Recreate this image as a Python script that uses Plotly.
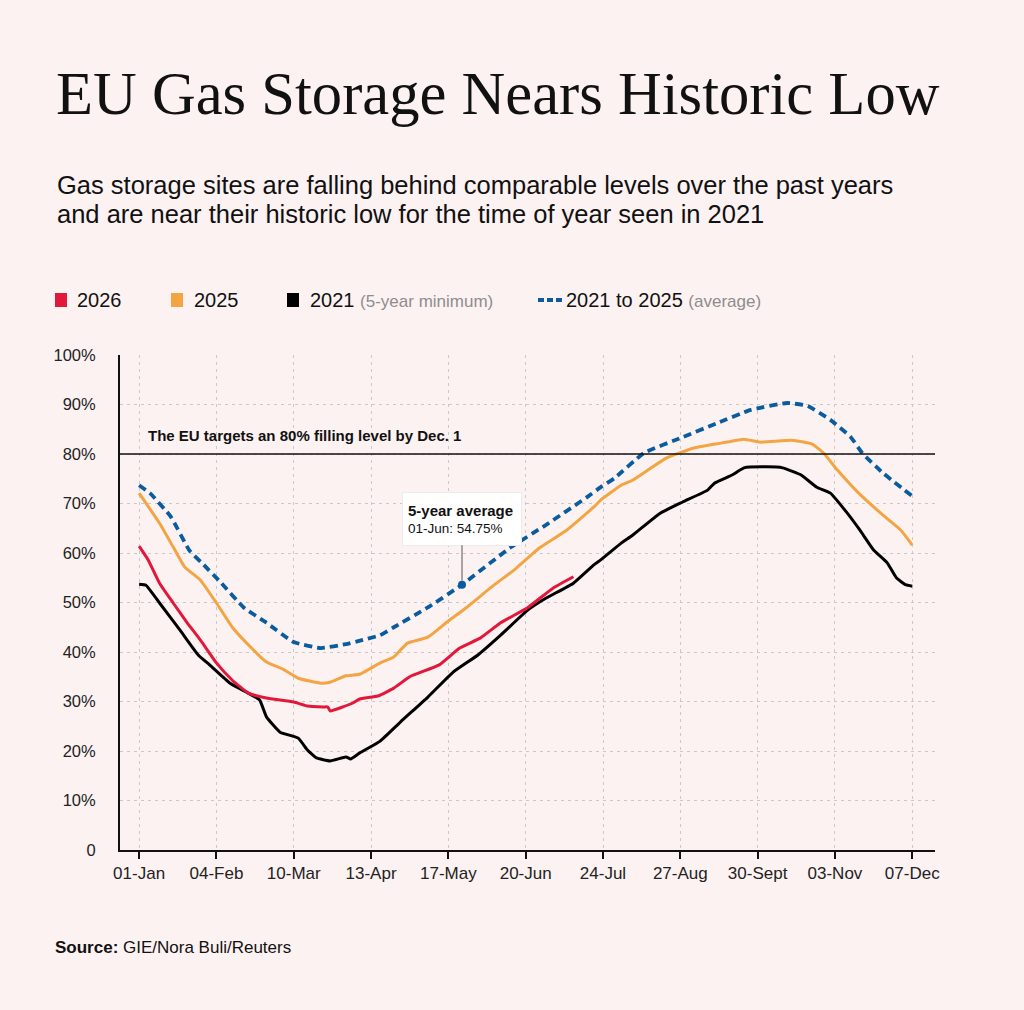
#!/usr/bin/env python3
"""
EU gas storage chart - filling level by day of year
"""

import plotly.graph_objects as go

# 日數 = 從 01-Jan 起算的天數
AVG_DAYS = [0, 5, 14, 22, 28, 36, 46, 56, 68, 80, 91, 98, 106, 112, 127, 142,
            163, 179, 197, 203, 209, 222, 239, 254, 269, 285, 294, 304, 313,
            318, 327, 340]
AVG_VALUES = [73.7, 72.0, 67.3, 60.6, 57.8, 54.0, 49.0, 45.9, 42.0, 40.8, 41.6,
              42.4, 43.4, 45.0, 49.0, 53.6, 61.0, 65.7, 71.3, 73.3, 75.1, 80.2,
              83.4, 86.2, 88.9, 90.3, 89.7, 86.9, 83.4, 80.2, 76.2, 71.5]

Y2025_DAYS = [0, 9, 15, 20, 27, 34, 41, 49, 56, 63, 70, 80, 84, 91, 97, 106,
              112, 118, 127, 135, 144, 156, 165, 176, 188, 200, 203, 212, 217,
              232, 244, 256, 266, 273, 287, 296, 301, 307, 316, 327, 335, 340]
Y2025_VALUES = [72.1, 66.0, 61.2, 57.2, 54.5, 49.9, 45.0, 41.0, 38.0, 36.6,
                34.7, 33.7, 33.9, 35.2, 35.5, 37.8, 39.0, 41.8, 43.0, 45.9,
                49.0, 53.5, 56.6, 61.0, 64.6, 69.3, 70.7, 73.7, 74.7, 79.2,
                81.2, 82.2, 83.0, 82.4, 82.8, 82.0, 80.2, 76.8, 72.3, 67.7,
                64.6, 61.6]

Y2021_DAYS = [0, 3, 9, 18, 26, 31, 40, 48, 53, 56, 62, 70, 74, 78, 84, 91, 93,
              97, 106, 115, 127, 138, 149, 159, 171, 179, 191, 200, 203, 212,
              217, 229, 239, 250, 253, 261, 266, 276, 283, 291, 298, 304, 311,
              317, 323, 329, 333, 337, 340]
Y2021_VALUES = [53.7, 53.5, 49.9, 44.4, 39.4, 37.4, 33.7, 31.7, 30.3, 26.9,
                23.8, 22.6, 20.2, 18.6, 18.0, 18.8, 18.4, 19.6, 22.0, 25.9,
                30.9, 35.9, 39.4, 43.4, 48.5, 50.9, 53.9, 57.6, 58.6, 62.0,
                63.6, 68.0, 70.3, 72.7, 74.1, 75.8, 77.2, 77.4, 77.2, 75.8,
                73.3, 72.1, 68.3, 64.6, 60.6, 58.0, 55.0, 53.6, 53.3]

Y2026_DAYS = [0, 4, 9, 15, 21, 27, 34, 41, 48, 56, 68, 74, 81, 83, 84, 94, 97,
              105, 112, 119, 132, 141, 150, 159, 171, 182, 191]
Y2026_VALUES = [61.4, 58.6, 53.9, 49.9, 46.0, 42.4, 37.8, 34.3, 31.7, 30.7,
                29.9, 29.1, 28.9, 28.9, 28.1, 29.7, 30.5, 31.1, 32.7, 35.0,
                37.4, 40.8, 42.8, 45.9, 49.0, 52.9, 55.2]

TICK_DAYS = [0, 34, 68, 102, 136, 170, 204, 238, 272, 306, 340]
TICK_LABELS = ["01-Jan", "04-Feb", "10-Mar", "13-Apr", "17-May", "20-Jun",
               "24-Jul", "27-Aug", "30-Sept", "03-Nov", "07-Dec"]
Y_TICKS = [0, 10, 20, 30, 40, 50, 60, 70, 80, 90, 100]
Y_LABELS = ["0", "10%", "20%", "30%", "40%", "50%", "60%", "70%", "80%",
            "90%", "100%"]

EU_TARGET = 80
HIGHLIGHT_INDEX = AVG_DAYS.index(142)
HIGHLIGHT_TEXT = ("<span style='font-size:15px'><b>5-year average</b></span>"
                  "<br>01-Jun: 54.75%")

BG = "#fdf2f2"
RED = "#e2183b"
ORANGE = "#f3a443"
BLACK = "#000000"
BLUE = "#0a5c9e"
GRAY = "#8d8d8d"
SANS = "Liberation Sans, Arial, sans-serif"
SERIF = "Liberation Serif, Times New Roman, serif"

# 繪圖區像素位置 (1024x1010)
LEFT, RIGHT, TOP, BOTTOM = 120, 935, 355, 850


def px_x(px):
    """像素轉 paper x"""
    return (px - LEFT) / (RIGHT - LEFT)


def px_y(py):
    """像素轉 paper y"""
    return (BOTTOM - py) / (BOTTOM - TOP)


def add_text(fig, px, py, text, size, color="#111111", family=SANS,
             anchor="left"):
    fig.add_annotation(
        x=px_x(px), y=px_y(py), xref="paper", yref="paper",
        text=text, showarrow=False, xanchor=anchor, yanchor="middle",
        align="left", font=dict(family=family, size=size, color=color),
    )


def add_legend(fig):
    """手動圖例"""
    items = [
        (55, 77, RED, "2026"),
        (171, 194, ORANGE, "2025"),
        (287, 310, BLACK,
         "2021 <span style='color:%s;font-size:17px'>(5-year minimum)</span>" % GRAY),
    ]
    for x0, tx, color, label in items:
        fig.add_shape(
            type="rect", xref="paper", yref="paper",
            x0=px_x(x0), x1=px_x(x0 + 12), y0=px_y(307), y1=px_y(293),
            fillcolor=color, line=dict(width=0),
        )
        add_text(fig, tx - 2, 300, label, 20)

    fig.add_shape(
        type="line", xref="paper", yref="paper",
        x0=px_x(538), x1=px_x(562), y0=px_y(300), y1=px_y(300),
        line=dict(color=BLUE, width=4, dash="6px,3px"),
    )
    add_text(fig, 564, 300,
             "2021 to 2025 <span style='color:%s;font-size:17px'>(average)</span>" % GRAY,
             20)


def build_figure():
    fig = go.Figure()

    series = [
        (Y2025_DAYS, Y2025_VALUES, ORANGE, None, 3),
        (Y2021_DAYS, Y2021_VALUES, BLACK, None, 3),
        (Y2026_DAYS, Y2026_VALUES, RED, None, 3),
        (AVG_DAYS, AVG_VALUES, BLUE, "8px,5px", 3.8),
    ]
    for days, values, color, dash, width in series:
        fig.add_trace(go.Scatter(
            x=days, y=values, mode="lines", showlegend=False,
            hoverinfo="skip",
            line=dict(color=color, width=width, dash=dash,
                      shape="spline", smoothing=0.4),
        ))

    # 標記點
    hx = AVG_DAYS[HIGHLIGHT_INDEX]
    hy = AVG_VALUES[HIGHLIGHT_INDEX]
    fig.add_trace(go.Scatter(
        x=[hx], y=[hy], mode="markers", showlegend=False, hoverinfo="skip",
        marker=dict(color=BLUE, size=8),
    ))
    fig.add_annotation(
        x=hx, y=hy, xref="x", yref="y", text=HIGHLIGHT_TEXT,
        showarrow=True, arrowhead=0, arrowwidth=1, arrowcolor="#555555",
        ax=0, ay=-66, standoff=4, align="left", width=108, height=42,
        bgcolor="#ffffff", bordercolor="#ececec", borderwidth=1, borderpad=5,
        font=dict(family=SANS, size=13.5, color="#111111"),
    )

    # EU 80% 目標線
    fig.add_shape(
        type="line", xref="x domain", yref="y",
        x0=0, x1=1, y0=EU_TARGET, y1=EU_TARGET,
        line=dict(color="#111111", width=1.3),
    )
    fig.add_annotation(
        x=px_x(146), y=EU_TARGET + 3.8, xref="paper", yref="y",
        text="<b>The EU targets an 80% filling level by Dec. 1</b>",
        showarrow=False, xanchor="left", yanchor="middle",
        font=dict(family=SANS, size=15, color="#111111"),
    )

    add_text(fig, 54, 94, "EU Gas Storage Nears Historic Low", 60.6,
             family=SERIF)
    add_text(fig, 55, 185,
             "Gas storage sites are falling behind comparable levels over the past years",
             25.5)
    add_text(fig, 55, 214,
             "and are near their historic low for the time of year seen in 2021",
             25.5)
    add_legend(fig)
    add_text(fig, 53, 947,
             "<b>Source:</b> GIE/Nora Buli/Reuters", 17)

    fig.update_xaxes(
        range=[-8.4, 350], tickvals=TICK_DAYS, ticktext=TICK_LABELS,
        showline=True, linecolor="#111111", linewidth=2,
        ticks="outside", ticklen=7, tickwidth=2, tickcolor="#111111",
        showgrid=True, gridcolor="#c9c9c9", griddash="3px,4px", gridwidth=1.2,
        zeroline=False, tickfont=dict(family=SANS, size=17, color="#222222"),
    )
    fig.update_yaxes(
        range=[0, 100], tickvals=Y_TICKS, ticktext=Y_LABELS,
        showline=True, linecolor="#111111", linewidth=2, ticks="",
        ticklabelstandoff=19,
        showgrid=True, gridcolor="#c9c9c9", griddash="3px,4px", gridwidth=1.2,
        zeroline=False, tickfont=dict(family=SANS, size=16.5, color="#222222"),
    )
    fig.update_layout(
        width=1024, height=1010,
        margin=dict(l=LEFT, r=1024 - RIGHT, t=TOP, b=1010 - BOTTOM),
        paper_bgcolor=BG, plot_bgcolor=BG,
        font=dict(family=SANS),
    )
    return fig


def main():
    fig = build_figure()
    # 去掉頁面預設邊距和工具列
    fig.write_html(
        "out.html",
        config={"displayModeBar": False},
        post_script="document.body.style.margin='0';"
                    "document.body.style.background='%s';" % BG,
    )


if __name__ == "__main__":
    main()
